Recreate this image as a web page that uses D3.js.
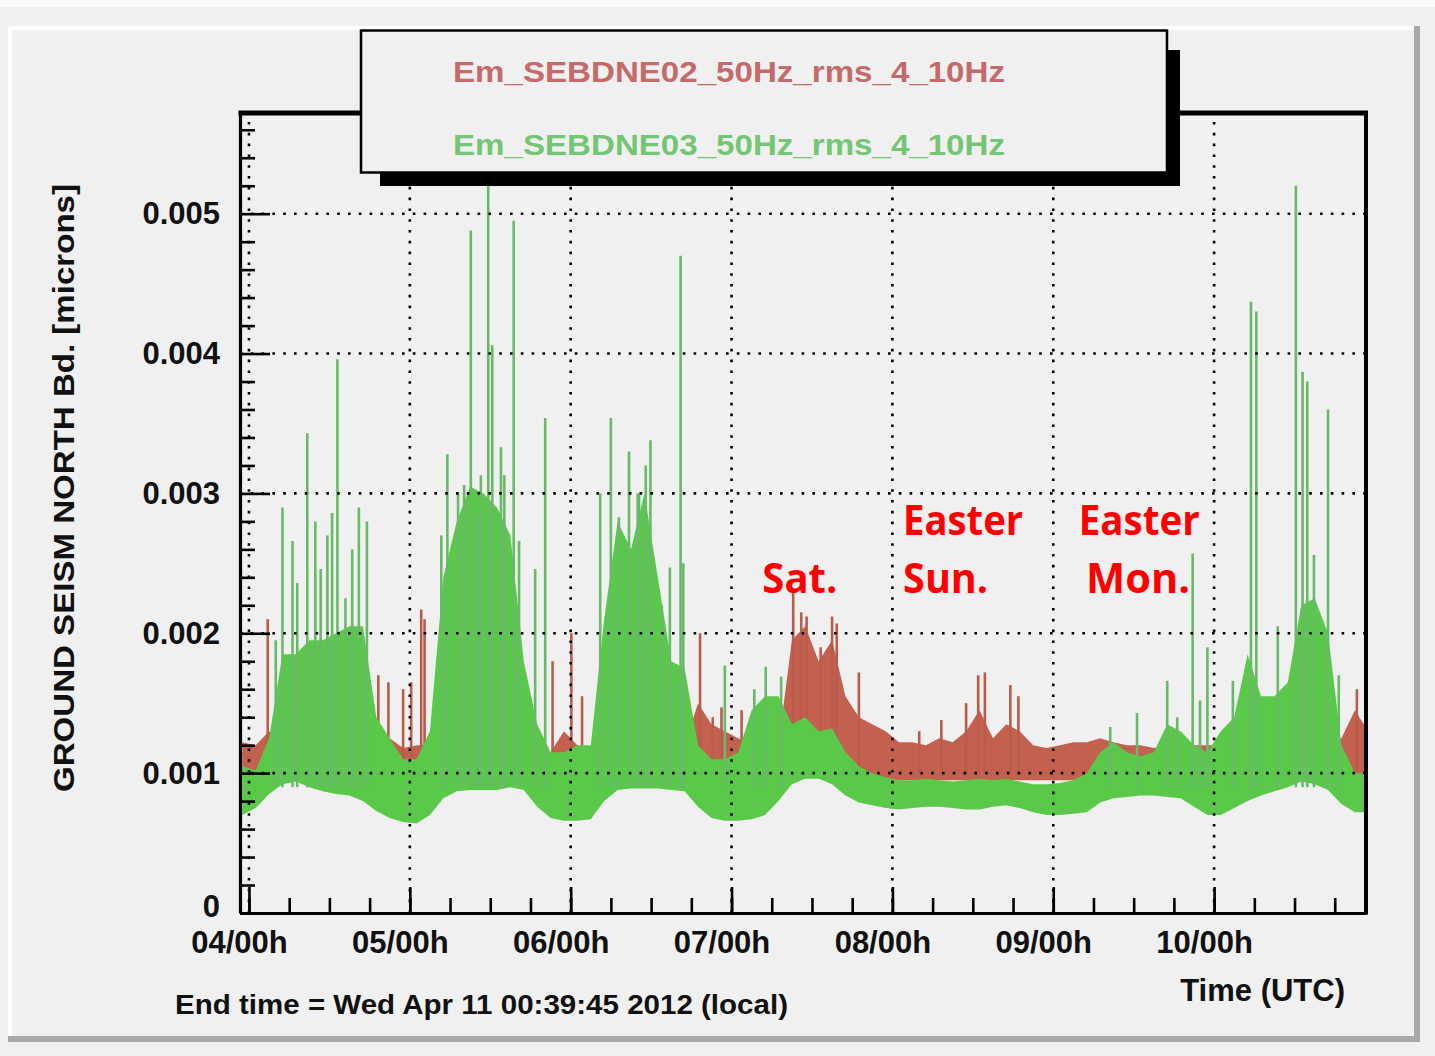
<!DOCTYPE html>
<html><head><meta charset="utf-8">
<script src="https://cdn.jsdelivr.net/npm/d3@7"></script>
<style>
html,body{margin:0;padding:0;background:#f0f0f0;}
svg{display:block;}
</style></head>
<body>
<svg id="chart" width="1435" height="1056"></svg>
<script>
// ---------------- DATA ----------------
// sample times: hours after 04/00h UTC (April 2012)
const sampleHours = [-1,1,3,5,7,9,11,13,15,17,19,21,23,25,27,29,31,33,35,37,39,41,43,45,47,49,51,53,55,57,59,61,63,65,67,69,71,73,75,77,79,81,83,85,87,89,91,93,95,97,99,101,103,105,107,109,111,113,115,117,119,121,123,125,127,129,131,133,135,137,139,141,143,145,147,149,151,153,155,157,159,161,163,165,167];

// Em_SEBDNE03 (green): lower / upper envelope of the dense trace [microns]
const greenLow = [0.00070,0.00075,0.00085,0.00092,0.00094,0.00090,0.00087,0.00085,0.00084,0.00080,0.00073,0.00068,0.00065,0.00064,0.00070,0.00082,0.00087,0.00088,0.00088,0.00088,0.00090,0.00088,0.00076,0.00068,0.00066,0.00066,0.00067,0.00080,0.00088,0.00089,0.00089,0.00089,0.00088,0.00087,0.00076,0.00068,0.00066,0.00066,0.00067,0.00070,0.00080,0.00092,0.00096,0.00096,0.00092,0.00084,0.00079,0.00077,0.00075,0.00074,0.00075,0.00076,0.00076,0.00075,0.00074,0.00074,0.00076,0.00077,0.00075,0.00072,0.00070,0.00070,0.00071,0.00072,0.00079,0.00082,0.00083,0.00084,0.00084,0.00083,0.00082,0.00076,0.00070,0.00070,0.00075,0.00080,0.00084,0.00087,0.00090,0.00094,0.00092,0.00088,0.00078,0.00072,0.00072];
const greenHigh = [0.00105,0.00102,0.00125,0.00185,0.00185,0.00195,0.00195,0.00200,0.00205,0.00205,0.00140,0.00125,0.00110,0.00110,0.00130,0.00240,0.00280,0.00305,0.00300,0.00290,0.00270,0.00180,0.00135,0.00115,0.00115,0.00120,0.00120,0.00210,0.00280,0.00260,0.00300,0.00240,0.00180,0.00175,0.00120,0.00110,0.00110,0.00115,0.00145,0.00155,0.00155,0.00135,0.00140,0.00130,0.00132,0.00115,0.00105,0.00100,0.00097,0.00095,0.00095,0.00096,0.00095,0.00094,0.00095,0.00096,0.00095,0.00096,0.00094,0.00092,0.00092,0.00093,0.00095,0.00100,0.00115,0.00122,0.00115,0.00112,0.00115,0.00135,0.00130,0.00120,0.00115,0.00130,0.00140,0.00185,0.00155,0.00155,0.00165,0.00220,0.00225,0.00200,0.00120,0.00100,0.00100];

// Em_SEBDNE02 (red): lower / upper envelope [microns]
const redLow = [0.00100,0.00100,0.00095,0.00095,0.00095,0.00095,0.00095,0.00095,0.00095,0.00095,0.00095,0.00095,0.00100,0.00100,0.00095,0.00095,0.00095,0.00095,0.00095,0.00095,0.00095,0.00095,0.00095,0.00095,0.00095,0.00095,0.00095,0.00095,0.00095,0.00095,0.00095,0.00095,0.00095,0.00095,0.00095,0.00095,0.00095,0.00095,0.00095,0.00095,0.00095,0.00100,0.00100,0.00100,0.00100,0.00098,0.00095,0.00095,0.00095,0.00095,0.00095,0.00095,0.00095,0.00095,0.00095,0.00095,0.00095,0.00095,0.00095,0.00095,0.00095,0.00095,0.00095,0.00095,0.00095,0.00095,0.00095,0.00095,0.00095,0.00095,0.00095,0.00095,0.00095,0.00095,0.00095,0.00095,0.00095,0.00095,0.00095,0.00095,0.00095,0.00095,0.00095,0.00095,0.00095];
const redHigh = [0.00122,0.00120,0.00130,0.00120,0.00120,0.00120,0.00120,0.00120,0.00120,0.00120,0.00130,0.00125,0.00118,0.00120,0.00120,0.00120,0.00120,0.00120,0.00120,0.00120,0.00120,0.00120,0.00120,0.00115,0.00130,0.00120,0.00115,0.00120,0.00120,0.00120,0.00120,0.00120,0.00120,0.00120,0.00150,0.00135,0.00130,0.00125,0.00120,0.00118,0.00120,0.00195,0.00205,0.00180,0.00195,0.00155,0.00140,0.00135,0.00130,0.00122,0.00122,0.00120,0.00125,0.00122,0.00130,0.00145,0.00125,0.00135,0.00130,0.00120,0.00118,0.00120,0.00122,0.00122,0.00125,0.00122,0.00120,0.00120,0.00118,0.00120,0.00118,0.00120,0.00120,0.00120,0.00120,0.00120,0.00120,0.00120,0.00120,0.00120,0.00120,0.00120,0.00125,0.00145,0.00130];

// isolated spikes
const greenSpikeHours  = [4.0,5.0,6.5,7.2,8.7,9.9,10.7,11.7,12.4,13.2,14.4,15.4,16.4,17.6,28.7,29.6,31.2,32.1,33.1,34.1,34.6,35.7,36.3,37.6,38.1,39.5,40.3,42.7,44.2,52.4,54.0,55.2,56.7,58.0,58.2,59.2,59.9,61.6,62.8,64.4,64.8,71.0,75.4,77.1,79.4,128.5,132.5,137.0,138.5,140.8,141.9,143.0,146.8,149.5,150.3,153.5,156.2,157.2,157.9,158.9,161.0,162.6];
const greenSpikeValues = [0.00195,0.00290,0.00266,0.00236,0.00343,0.00280,0.00246,0.00270,0.00286,0.00396,0.00225,0.00260,0.00290,0.00280,0.00270,0.00328,0.00300,0.00306,0.00488,0.00286,0.00313,0.00520,0.00406,0.00333,0.00313,0.00495,0.00266,0.00246,0.00354,0.00300,0.00354,0.00283,0.00330,0.00300,0.00300,0.00320,0.00338,0.00220,0.00247,0.00470,0.00250,0.00177,0.00160,0.00176,0.00169,0.00133,0.00143,0.00166,0.00140,0.00257,0.00152,0.00190,0.00166,0.00437,0.00430,0.00205,0.00520,0.00387,0.00380,0.00256,0.00360,0.00170];
const redSpikeHours  = [2.8,19.3,20.8,23.0,24.2,25.7,26.2,45.3,48.1,49.7,67.3,69.2,70.5,73.5,81.2,82.4,83.2,85.3,87.0,87.7,91.0,100.0,103.3,107.0,108.8,109.8,113.6,114.8,165.3];
const redSpikeValues = [0.00210,0.00170,0.00165,0.00160,0.00165,0.00217,0.00210,0.00180,0.00200,0.00155,0.00200,0.00140,0.00147,0.00145,0.00229,0.00215,0.00212,0.00190,0.00212,0.00207,0.00172,0.00130,0.00138,0.00150,0.00170,0.00172,0.00163,0.00155,0.00160];

const yTickValues = [0,0.001,0.002,0.003,0.004,0.005];
const yTickLabels = ["0","0.001","0.002","0.003","0.004","0.005"];
const seriesNames = ["Em_SEBDNE02_50Hz_rms_4_10Hz","Em_SEBDNE03_50Hz_rms_4_10Hz"];
const annotations = [
  {text:"Sat.",   hour:76.6, value:0.00229},
  {text:"Easter", hour:97.6, value:0.00270},
  {text:"Sun.",   hour:97.6, value:0.00229},
  {text:"Easter", hour:123.8,value:0.00270},
  {text:"Mon.",   hour:124.9,value:0.00229}
];
const annotationWidths = [75,120,85,121,104];

// ---------------- DRAW ----------------
const svg = d3.select('#chart');
const t0 = Date.UTC(2012,3,4,0,0,0);
const toDate = h => new Date(t0 + h*3600e3);
const startT = new Date(Date.UTC(2012,3,3,22,39,45));
const endT   = new Date(Date.UTC(2012,3,10,22,39,45));
const L=240,R=1366,T=113,B=913;
const x = d3.scaleUtc().domain([startT,endT]).range([L,R]);
const y = d3.scaleLinear().domain([0,0.00572]).range([B,T]);

// canvas background and bevel
svg.append('rect').attr('width',1435).attr('height',1056).attr('fill','#f0f0f0');
svg.append('rect').attr('width',1435).attr('height',7).attr('fill','#fbfbfb');
svg.append('rect').attr('x',8).attr('y',26).attr('width',1410).attr('height',4).attr('fill','#ffffff');
svg.append('rect').attr('x',8).attr('y',26).attr('width',4).attr('height',1014).attr('fill','#ffffff');
svg.append('rect').attr('x',1414).attr('y',26).attr('width',6).attr('height',1016).attr('fill','#a9a9a9');
svg.append('rect').attr('x',8).attr('y',1036).attr('width',1412).attr('height',6).attr('fill','#a9a9a9');

svg.append('clipPath').attr('id','plotclip').append('rect')
  .attr('x',L).attr('y',T).attr('width',R-L).attr('height',B-T);
const plot = svg.append('g').attr('clip-path','url(#plotclip)');

const redRows = sampleHours.map((h,i)=>({h, lo:redLow[i], hi:redHigh[i]}));
const greenRows = sampleHours.map((h,i)=>({h, lo:greenLow[i], hi:greenHigh[i]}));
const area = d3.area().x(d=>x(toDate(d.h))).y0(d=>y(d.lo)).y1(d=>y(d.hi));

plot.append('path').datum(redRows).attr('d',area).attr('fill','#c4604e');
plot.selectAll('line.rs').data(redSpikeHours).join('line').attr('class','rs')
  .attr('x1',h=>x(toDate(h))).attr('x2',h=>x(toDate(h)))
  .attr('y1',y(0.001)).attr('y2',(h,i)=>y(redSpikeValues[i]))
  .attr('stroke','#b85c4c').attr('stroke-width',2.6);

plot.append('path').datum(greenRows).attr('d',area).attr('fill','#5ac94a');
plot.selectAll('line.gs').data(greenSpikeHours).join('line').attr('class','gs')
  .attr('x1',h=>x(toDate(h))).attr('x2',h=>x(toDate(h)))
  .attr('y1',y(0.0009)).attr('y2',(h,i)=>y(greenSpikeValues[i]))
  .attr('stroke','#68b968').attr('stroke-width',2.6);

// grid (dotted)
const dayTicks = x.ticks(d3.utcDay.every(1));
const grid = svg.append('g').attr('stroke','#000').attr('stroke-width',2.6).attr('stroke-dasharray','2.6,8.2');
grid.selectAll('line.v').data(dayTicks).join('line').attr('class','v')
  .attr('x1',d=>x(d)).attr('x2',d=>x(d)).attr('y1',B).attr('y2',T);
grid.selectAll('line.h').data(yTickValues.filter(v=>v>0)).join('line').attr('class','h')
  .attr('x1',L).attr('x2',R).attr('y1',d=>y(d)).attr('y2',d=>y(d));

// axes
const font = "'Liberation Sans', Arial, Helvetica, sans-serif";
const xAxisMinor = d3.axisBottom(x).ticks(d3.utcHour.every(6)).tickSizeInner(-15).tickSizeOuter(0).tickFormat('');
const gxm = svg.append('g').attr('transform',`translate(0,${B})`).call(xAxisMinor);
gxm.select('.domain').remove();
gxm.selectAll('line').attr('stroke','#000').attr('stroke-width',2.6);

const xAxis = d3.axisBottom(x).ticks(d3.utcDay.every(1)).tickFormat(d3.utcFormat('%d/%Hh'))
  .tickSizeInner(-26).tickSizeOuter(0).tickPadding(18);
const gx = svg.append('g').attr('transform',`translate(0,${B})`).call(xAxis);
gx.select('.domain').attr('stroke','#000').attr('stroke-width',3);
gx.selectAll('line').attr('stroke','#000').attr('stroke-width',2.6);
gx.selectAll('text').attr('font-family',font).attr('font-weight','bold').attr('font-size',31)
  .attr('fill','#111').attr('dx',-10);

const minorY = d3.range(1,29).map(k=>k*0.0002).filter(v=>Math.abs(v*1000-Math.round(v*1000))>1e-6);
const yAxisMinor = d3.axisLeft(y).tickValues(minorY).tickSizeInner(-15).tickSizeOuter(0).tickFormat('');
const gym = svg.append('g').attr('transform',`translate(${L},0)`).call(yAxisMinor);
gym.select('.domain').remove();
gym.selectAll('line').attr('stroke','#000').attr('stroke-width',2.6);

const yAxis = d3.axisLeft(y).tickValues(yTickValues).tickFormat((d,i)=>yTickLabels[i])
  .tickSizeInner(-30).tickSizeOuter(0).tickPadding(20);
const gy = svg.append('g').attr('transform',`translate(${L},0)`).call(yAxis);
gy.select('.domain').attr('stroke','#000').attr('stroke-width',3.2);
gy.selectAll('line').attr('stroke','#000').attr('stroke-width',2.6);
gy.selectAll('text').attr('font-family',font).attr('font-weight','bold').attr('font-size',31).attr('fill','#111')
  .attr('y',(d)=> d===0 ? -6 : 0);

// frame top & right
svg.append('line').attr('x1',L-1.5).attr('x2',R+2).attr('y1',T).attr('y2',T).attr('stroke','#000').attr('stroke-width',5);
svg.append('line').attr('x1',R).attr('x2',R).attr('y1',T).attr('y2',B+1.5).attr('stroke','#000').attr('stroke-width',4);

// legend
svg.append('rect').attr('x',380).attr('y',50).attr('width',800).attr('height',136).attr('fill','#000');
svg.append('rect').attr('x',361).attr('y',30.5).attr('width',806).attr('height',142).attr('fill','#f0f0f0')
  .attr('stroke','#000').attr('stroke-width',2.5);
const legendColors = ['#c46a6a','#74c674'];
seriesNames.forEach((n,i)=>{
  svg.append('text').attr('x',453).attr('y',[82,155][i]).text(n)
    .attr('font-family',font).attr('font-weight','bold').attr('font-size',29)
    .attr('fill',legendColors[i]).attr('textLength',552).attr('lengthAdjust','spacingAndGlyphs');
});

// axis titles
svg.append('text').attr('transform','translate(74,488) rotate(-90)').attr('text-anchor','middle')
  .text('GROUND SEISM NORTH Bd. [microns]').attr('font-family',font).attr('font-weight','bold')
  .attr('font-size',29).attr('fill','#111').attr('textLength',608).attr('lengthAdjust','spacingAndGlyphs');
svg.append('text').attr('x',1345).attr('y',1001).attr('text-anchor','end').text('Time (UTC)')
  .attr('font-family',font).attr('font-weight','bold').attr('font-size',31).attr('fill','#111');
svg.append('text').attr('x',175).attr('y',1014).text('End time = Wed Apr 11 00:39:45 2012 (local)')
  .attr('font-family',font).attr('font-weight','bold').attr('font-size',28).attr('fill','#111')
  .attr('textLength',613).attr('lengthAdjust','spacingAndGlyphs');

// annotations
annotations.forEach((a,i)=>{
  svg.append('text').attr('x',x(toDate(a.hour))).attr('y',y(a.value)).text(a.text)
    .attr('font-family',"'Open Sans', Lato, sans-serif").attr('font-weight','bold').attr('font-size',42)
    .attr('fill','#ff0000').attr('textLength',annotationWidths[i]).attr('lengthAdjust','spacingAndGlyphs');
});
</script>
</body></html>
